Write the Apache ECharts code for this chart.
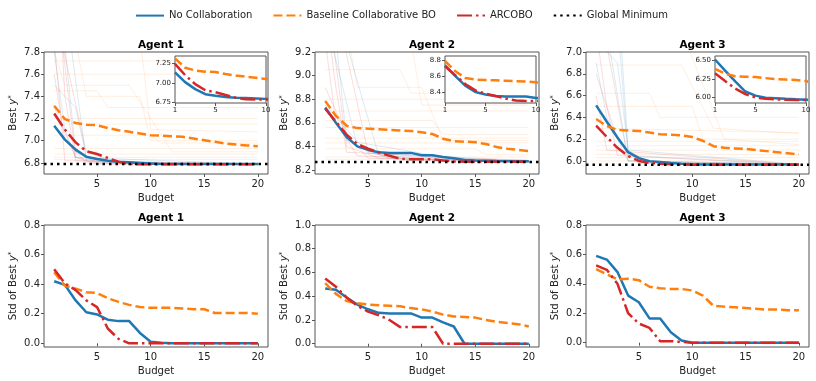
<!DOCTYPE html>
<html>
<head>
<meta charset="utf-8">
<script src="https://cdn.jsdelivr.net/npm/echarts@6/dist/echarts.min.js"></script>
<style>
html, body { margin: 0; padding: 0; background: #fff; }
#chart { width: 816px; height: 381px; }
</style>
</head>
<body>
<div id="chart"></div>
<script>
// budgets 1..20
var budget = [1, 2, 3, 4, 5, 6, 7, 8, 9, 10, 11, 12, 13, 14, 15, 16, 17, 18, 19, 20];

// mean best y* per agent
var noCollab1 = [7.135, 7.01, 6.92, 6.855, 6.835, 6.82, 6.81, 6.805, 6.80, 6.795, 6.79, 6.79, 6.79, 6.79, 6.79, 6.79, 6.79, 6.79, 6.79, 6.79];
var baseline1 = [7.315, 7.195, 7.16, 7.145, 7.14, 7.115, 7.095, 7.08, 7.065, 7.05, 7.045, 7.04, 7.035, 7.02, 7.005, 6.99, 6.975, 6.965, 6.958, 6.95];
var arcobo1 = [7.245, 7.10, 6.985, 6.905, 6.88, 6.845, 6.81, 6.79, 6.788, 6.787, 6.787, 6.787, 6.787, 6.787, 6.787, 6.787, 6.787, 6.787, 6.787, 6.787];
var globalMin1 = 6.79;

var noCollab2 = [8.73, 8.60, 8.48, 8.40, 8.37, 8.35, 8.345, 8.345, 8.345, 8.325, 8.325, 8.31, 8.30, 8.285, 8.28, 8.278, 8.276, 8.275, 8.275, 8.275];
var baseline2 = [8.785, 8.66, 8.575, 8.555, 8.55, 8.545, 8.54, 8.535, 8.53, 8.52, 8.505, 8.465, 8.445, 8.44, 8.435, 8.42, 8.395, 8.38, 8.37, 8.36];
var arcobo2 = [8.72, 8.61, 8.50, 8.42, 8.38, 8.35, 8.32, 8.295, 8.29, 8.29, 8.29, 8.28, 8.272, 8.27, 8.27, 8.27, 8.27, 8.27, 8.27, 8.27];
var globalMin2 = 8.268;

var noCollab3 = [6.51, 6.36, 6.215, 6.08, 6.025, 5.998, 5.99, 5.982, 5.975, 5.97, 5.968, 5.968, 5.968, 5.968, 5.968, 5.968, 5.968, 5.968, 5.968, 5.968];
var baseline3 = [6.385, 6.32, 6.285, 6.28, 6.275, 6.26, 6.245, 6.24, 6.235, 6.22, 6.185, 6.135, 6.12, 6.115, 6.11, 6.10, 6.09, 6.08, 6.07, 6.06];
var arcobo3 = [6.325, 6.22, 6.12, 6.045, 6.0, 5.982, 5.975, 5.97, 5.967, 5.966, 5.966, 5.966, 5.966, 5.966, 5.966, 5.966, 5.966, 5.966, 5.966, 5.966];
var globalMin3 = 5.965;

// std of best y*
var stdNoCollab1 = [0.42, 0.395, 0.29, 0.21, 0.195, 0.16, 0.15, 0.15, 0.07, 0.01, 0.003, 0, 0, 0, 0, 0, 0, 0, 0, 0];
var stdBaseline1 = [0.48, 0.39, 0.37, 0.345, 0.34, 0.305, 0.28, 0.26, 0.245, 0.24, 0.24, 0.24, 0.235, 0.23, 0.23, 0.205, 0.205, 0.205, 0.205, 0.20];
var stdArcobo1 = [0.50, 0.405, 0.36, 0.29, 0.245, 0.10, 0.03, 0, 0, 0, 0, 0, 0, 0, 0, 0, 0, 0, 0, 0];

var stdNoCollab2 = [0.465, 0.455, 0.39, 0.33, 0.29, 0.26, 0.255, 0.255, 0.255, 0.22, 0.22, 0.18, 0.145, 0, 0, 0, 0, 0, 0, 0];
var stdBaseline2 = [0.51, 0.42, 0.36, 0.34, 0.33, 0.325, 0.32, 0.315, 0.30, 0.29, 0.27, 0.245, 0.23, 0.225, 0.22, 0.20, 0.185, 0.175, 0.165, 0.145];
var stdArcobo2 = [0.55, 0.48, 0.39, 0.32, 0.27, 0.24, 0.20, 0.14, 0.14, 0.14, 0.14, 0, 0, 0, 0, 0, 0, 0, 0, 0];

var stdNoCollab3 = [0.59, 0.565, 0.48, 0.32, 0.275, 0.165, 0.165, 0.07, 0.015, 0, 0, 0, 0, 0, 0, 0, 0, 0, 0, 0];
var stdBaseline3 = [0.50, 0.465, 0.43, 0.435, 0.425, 0.38, 0.37, 0.365, 0.365, 0.355, 0.32, 0.25, 0.245, 0.24, 0.235, 0.23, 0.225, 0.225, 0.22, 0.22];
var stdArcobo3 = [0.525, 0.495, 0.40, 0.20, 0.13, 0.10, 0.01, 0.01, 0.005, 0, 0, 0, 0, 0, 0, 0, 0, 0, 0, 0];

// faint individual runs, [budget, best y] break points
var runsBaseline1 = [
    [[1, 7.72], [20, 7.72]], [[1, 7.6], [17, 7.6], [18, 7.5], [20, 7.5]],
    [[1, 7.45], [5, 7.45], [6, 7.3], [20, 7.3]], [[1, 7.2], [20, 7.2]],
    [[1, 7.15], [20, 7.15]], [[1, 7.05], [10, 7.05], [11, 6.98], [20, 6.98]],
    [[1, 6.93], [20, 6.93]], [[1, 6.88], [20, 6.88]], [[1, 6.85], [20, 6.85]],
    [[1, 7.9], [3, 7.9], [4, 7.4], [9, 7.4], [10, 7.0], [20, 7.0]],
    [[1, 7.8], [2, 7.5], [8, 7.5], [12, 6.9], [20, 6.9]], [[1, 6.83], [20, 6.83]],
    [[1, 7.95], [9, 7.95], [10, 7.1], [20, 7.08]]
];
var runsArcobo1 = [
    [[1, 7.9], [2, 6.82], [20, 6.79]], [[1, 8.5], [3, 6.85], [6, 6.8], [20, 6.79]],
    [[1, 7.6], [2, 7.0], [4, 6.8], [20, 6.79]], [[1, 8.2], [4, 6.9], [7, 6.79], [20, 6.79]],
    [[1, 7.3], [3, 6.85], [5, 6.79], [20, 6.79]], [[1, 9.2], [2, 7.4], [3, 6.82], [20, 6.79]]
];
var runsNoCollab1 = [
    [[1, 8.8], [3, 6.9], [5, 6.8], [20, 6.79]], [[1, 7.8], [2, 7.1], [3, 6.85], [20, 6.79]],
    [[1, 9.0], [4, 6.82], [10, 6.79], [20, 6.79]], [[1, 7.5], [3, 7.3], [4, 6.85], [8, 6.8], [20, 6.79]]
];

var runsBaseline2 = [
    [[1, 9.05], [8, 9.05], [9, 8.85], [20, 8.85]], [[1, 8.7], [20, 8.7]],
    [[1, 8.62], [11, 8.62], [12, 8.5], [20, 8.5]], [[1, 8.56], [20, 8.56]],
    [[1, 8.47], [20, 8.47]], [[1, 8.43], [20, 8.43]],
    [[1, 8.38], [15, 8.38], [16, 8.33], [20, 8.33]], [[1, 8.31], [20, 8.31]],
    [[1, 8.29], [20, 8.29]], [[1, 9.4], [3, 9.4], [4, 8.9], [10, 8.9], [12, 8.45], [20, 8.45]],
    [[1, 9.3], [9, 9.3], [10, 8.75], [20, 8.75]], [[1, 8.8], [20, 8.8]]
];
var runsArcobo2 = [
    [[1, 9.8], [3, 8.4], [6, 8.3], [20, 8.27]], [[1, 9.3], [2, 8.6], [4, 8.32], [20, 8.27]],
    [[1, 10], [5, 8.35], [9, 8.28], [20, 8.27]], [[1, 8.9], [3, 8.5], [5, 8.3], [20, 8.27]],
    [[1, 9.6], [2, 8.9], [3, 8.35], [20, 8.28]]
];
var runsNoCollab2 = [
    [[1, 9.5], [4, 8.4], [7, 8.3], [20, 8.27]], [[1, 10.2], [3, 8.45], [14, 8.28], [20, 8.27]],
    [[1, 8.75], [5, 8.34], [20, 8.27]], [[1, 9.9], [6, 8.32], [20, 8.28]]
];

var runsBaseline3 = [
    [[1, 6.88], [9, 6.88], [12, 6.3], [20, 6.25]], [[1, 6.5], [10, 6.5], [11, 6.2], [20, 6.2]],
    [[1, 6.3], [20, 6.26]], [[1, 6.18], [20, 6.18]], [[1, 6.14], [20, 6.14]],
    [[1, 6.1], [20, 6.1]], [[1, 6.06], [20, 6.06]], [[1, 6.03], [20, 6.03]],
    [[1, 6.0], [20, 6.0]], [[1, 7.2], [9, 7.2], [13, 6.2], [20, 6.15]],
    [[1, 6.62], [6, 6.62], [7, 6.4], [20, 6.4]]
];
var runsArcobo3 = [
    [[1, 7.2], [2, 6.5], [3, 6.05], [20, 5.965]], [[1, 6.8], [3, 6.2], [5, 5.98], [20, 5.965]],
    [[1, 7.6], [4, 6.0], [20, 5.965]], [[1, 6.6], [2, 6.1], [20, 5.965]]
];
var runsNoCollab3 = [
    [[1, 7.5], [3, 7.3], [4, 6.05], [20, 5.97]], [[1, 7.8], [2, 7.2], [4, 6.0], [20, 5.97]],
    [[1, 7.1], [3, 6.9], [4, 6.1], [6, 5.98], [20, 5.97]], [[1, 6.9], [2, 6.4], [4, 6.0], [20, 5.97]],
    [[1, 8.0], [3, 7.6], [4, 6.1], [20, 5.97]]
];

var BLUE = '#1f77b4', ORANGE = '#ff7f0e', RED = '#d62728';
var TEXT = '#222', FRAME = '#555';

var chart = echarts.init(document.getElementById('chart'));

function pts(ys) {
    return budget.map(function (b, i) { return [b, ys[i]]; });
}

function xAx(g, min, max, ticks, size, z) {
    return {
        type: 'value', gridIndex: g, min: min, max: max, z: z || 0,
        axisLine: { show: false }, splitLine: { show: false },
        axisTick: { show: true, length: 3, customValues: ticks, lineStyle: { color: FRAME } },
        axisLabel: { customValues: ticks, fontSize: size, color: TEXT, margin: 5, fontFamily: 'DejaVu Sans' }
    };
}

function yAx(g, min, max, ticks, digits, size, name, z) {
    return {
        type: 'value', gridIndex: g, min: min, max: max, z: z || 0,
        axisLine: { show: false }, splitLine: { show: false },
        axisTick: { show: true, length: 3, customValues: ticks, lineStyle: { color: FRAME } },
        axisLabel: {
            customValues: ticks, fontSize: size, color: TEXT, margin: 4, fontFamily: 'DejaVu Sans',
            formatter: function (v) { return v.toFixed(digits); }
        },
        name: name || '', nameLocation: 'middle', nameGap: 26, nameRotate: 90,
        nameTextStyle: {
            fontFamily: 'DejaVu Sans', color: TEXT, fontSize: 10.2,
            rich: {
                t: { fontSize: 10.2, color: TEXT, fontFamily: 'DejaVu Sans' },
                i: { fontSize: 10.2, color: TEXT, fontStyle: 'italic', fontFamily: 'DejaVu Sans' },
                s: { fontSize: 7, color: TEXT, verticalAlign: 'top', fontFamily: 'DejaVu Sans' }
            }
        }
    };
}

function line(name, g, data, color, type, width, z) {
    return {
        name: name, type: 'line', xAxisIndex: g, yAxisIndex: g, data: data,
        symbol: 'none', silent: true, z: z, clip: true,
        lineStyle: { color: color, type: type, width: width },
        itemStyle: { color: color }
    };
}

var DASH = [9, 4], DASHDOT = [15, 4, 2.5, 4], DOT = [2.5, 4];

var series = [];
function addRuns(g, runs, color) {
    runs.forEach(function (r) { series.push(line('run', g, r, color, 'solid', 0.8, 1)); });
}
function addMeans(g, nc, bl, ar, z) {
    series.push(line('No Collaboration', g, pts(nc), BLUE, 'solid', 2.5, z));
    series.push(line('Baseline Collaborative BO', g, pts(bl), ORANGE, DASH, 2.5, z));
    series.push(line('ARCOBO', g, pts(ar), RED, DASHDOT, 2.5, z));
}

var agents = [
    { nc: noCollab1, bl: baseline1, ar: arcobo1, gm: globalMin1, rb: runsBaseline1, ra: runsArcobo1, rn: runsNoCollab1,
      snc: stdNoCollab1, sbl: stdBaseline1, sar: stdArcobo1 },
    { nc: noCollab2, bl: baseline2, ar: arcobo2, gm: globalMin2, rb: runsBaseline2, ra: runsArcobo2, rn: runsNoCollab2,
      snc: stdNoCollab2, sbl: stdBaseline2, sar: stdArcobo2 },
    { nc: noCollab3, bl: baseline3, ar: arcobo3, gm: globalMin3, rb: runsBaseline3, ra: runsArcobo3, rn: runsNoCollab3,
      snc: stdNoCollab3, sbl: stdBaseline3, sar: stdArcobo3 }
];

agents.forEach(function (a, k) {
    addRuns(k, a.rb, 'rgba(255,127,14,0.16)');
    addRuns(k, a.rn, 'rgba(31,119,180,0.2)');
    addRuns(k, a.ra, 'rgba(214,39,40,0.2)');
    addMeans(k, a.nc, a.bl, a.ar, 3);
    series.push(line('Global Minimum', k, [[0.05, a.gm], [20.95, a.gm]], '#000', DOT, 2.5, 4));
    addMeans(k + 3, a.snc, a.sbl, a.sar, 3);
    addMeans(k + 6, a.nc, a.bl, a.ar, 12);
});

var lefts = [44, 315, 586];
var widths = [224, 224, 223];
var insetLefts = [175, 445, 715];

var grids = [], xAxes = [], yAxes = [], titles = [];
var xTicks = [5, 10, 15, 20];
var bestName = '{t|Best }{i|y}{s|*}';
var stdName = '{t|Std of Best }{i|y}{s|*}';

var topY = [[6.70, 7.8, [6.8, 7.0, 7.2, 7.4, 7.6, 7.8]],
            [8.166, 9.2, [8.2, 8.4, 8.6, 8.8, 9.0, 9.2]],
            [5.88, 7.0, [6.0, 6.2, 6.4, 6.6, 6.8, 7.0]]];
var stdY = [[-0.025, 0.8, [0, 0.2, 0.4, 0.6, 0.8]],
            [-0.0275, 1.0, [0, 0.2, 0.4, 0.6, 0.8, 1.0]],
            [-0.0295, 0.8, [0, 0.2, 0.4, 0.6, 0.8]]];
var insetY = [[6.742, 7.346, [6.75, 7.0, 7.25], 2],
              [8.264, 8.847, [8.4, 8.6, 8.8], 1],
              [5.926, 6.557, [6.0, 6.25, 6.5], 2]];

for (var k = 0; k < 3; k++) {
    grids[k] = { left: lefts[k], top: 52, width: widths[k], height: 122, show: true, borderColor: FRAME, borderWidth: 1 };
    grids[k + 3] = { left: lefts[k], top: 225, width: widths[k], height: 122, show: true, borderColor: FRAME, borderWidth: 1 };
    grids[k + 6] = { left: insetLefts[k], top: 56, width: 91, height: 47, show: true, borderColor: FRAME, borderWidth: 1,
                     backgroundColor: '#fff', z: 10 };
    xAxes[k] = xAx(k, 0.05, 20.95, xTicks, 10);
    xAxes[k].name = 'Budget';
    xAxes[k + 3] = xAx(k + 3, 0.05, 20.95, xTicks, 10);
    xAxes[k + 3].name = 'Budget';
    xAxes[k + 6] = xAx(k + 6, 1, 10, [1, 5, 10], 7, 11);
    xAxes[k + 6].axisLabel.margin = 4;
    yAxes[k] = yAx(k, topY[k][0], topY[k][1], topY[k][2], 1, 10, bestName);
    yAxes[k + 3] = yAx(k + 3, stdY[k][0], stdY[k][1], stdY[k][2], 1, 10, stdName);
    yAxes[k + 6] = yAx(k + 6, insetY[k][0], insetY[k][1], insetY[k][2], insetY[k][3], 7, '', 11);
    titles.push({ text: 'Agent ' + (k + 1), left: lefts[k] + widths[k] / 2, top: 35, textAlign: 'center',
                  textStyle: { fontSize: 10.5, fontWeight: 'bold', color: '#000', fontFamily: 'DejaVu Sans' } });
    titles.push({ text: 'Agent ' + (k + 1), left: lefts[k] + widths[k] / 2, top: 208, textAlign: 'center',
                  textStyle: { fontSize: 10.5, fontWeight: 'bold', color: '#000', fontFamily: 'DejaVu Sans' } });
}
[0, 1, 2, 3, 4, 5].forEach(function (i) {
    xAxes[i].nameLocation = 'middle';
    xAxes[i].nameGap = 19;
    xAxes[i].nameTextStyle = { fontSize: 10.2, color: TEXT, fontFamily: 'DejaVu Sans' };
});

var option = {
    animation: false,
    backgroundColor: '#fff',
    textStyle: { fontFamily: 'DejaVu Sans' },
    title: titles,
    legend: {
        data: ['No Collaboration', 'Baseline Collaborative BO', 'ARCOBO', 'Global Minimum'],
        left: 130, top: 5, itemGap: 20, itemWidth: 28, itemHeight: 14,
        itemStyle: { opacity: 0 },
        textStyle: { fontSize: 10, color: TEXT, fontFamily: 'DejaVu Sans' },
        selectedMode: false
    },
    grid: grids,
    xAxis: xAxes,
    yAxis: yAxes,
    series: series
};

chart.setOption(option);
</script>
</body>
</html>
